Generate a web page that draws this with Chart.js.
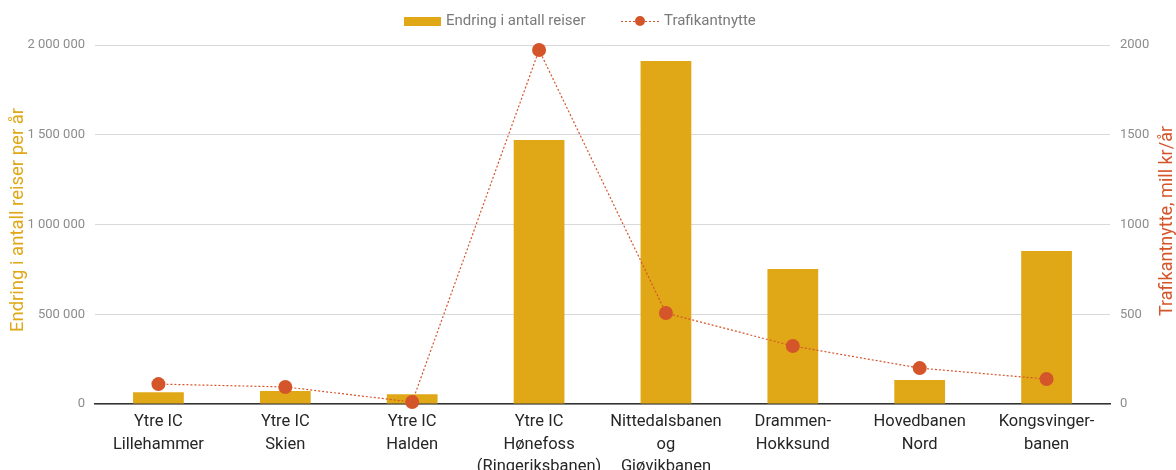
<!DOCTYPE html>
<html>
<head>
<meta charset="utf-8">
<script src="https://cdn.jsdelivr.net/npm/chart.js@4"></script>
<style>
  html, body { margin: 0; padding: 0; background: #fff; }
  #wrap { width: 1176px; height: 470px; }
</style>
</head>
<body>
<div id="wrap"><canvas id="myChart" width="1176" height="470"></canvas></div>
<script>
const categories = [
  ['Ytre IC', 'Lillehammer'],
  ['Ytre IC', 'Skien'],
  ['Ytre IC', 'Halden'],
  ['Ytre IC', 'Hønefoss', '(Ringeriksbanen)'],
  ['Nittedalsbanen', 'og', 'Gjøvikbanen'],
  ['Drammen-', 'Hokksund'],
  ['Hovedbanen', 'Nord'],
  ['Kongsvinger-', 'banen']
];
const reiser = [65000, 72000, 55000, 1471000, 1911000, 752000, 134000, 852000];
const nytte = [111, 95, 11, 1972, 507, 323, 200, 139];
const leftTicks = [0, 500000, 1000000, 1500000, 2000000];
const rightTicks = [0, 500, 1000, 1500, 2000];
const leftTitle = 'Endring i antall reiser per år';
const rightTitle = 'Trafikantnytte, mill kr/år';

const barColor = '#E0A717';
const lineColor = '#D5552B';
const fontFamily = 'Roboto, "Liberation Sans", sans-serif';

function spaced(v) {
  return String(v).replace(/\B(?=(\d{3})+(?!\d))/g, ' ');
}

// legend + axis titles drawn by hand (title on right reads bottom-to-top)
const extras = {
  id: 'extras',
  afterDraw(chart) {
    const ctx = chart.ctx;
    ctx.save();
    ctx.font = '15px ' + fontFamily;
    ctx.textBaseline = 'middle';
    ctx.fillStyle = barColor;
    ctx.fillRect(404, 17, 37, 9);
    ctx.fillStyle = '#7a7a7a';
    ctx.fillText('Endring i antall reiser', 446, 21);

    ctx.strokeStyle = lineColor;
    ctx.lineWidth = 1;
    ctx.setLineDash([2, 2]);
    ctx.beginPath();
    ctx.moveTo(621, 21.5);
    ctx.lineTo(659, 21.5);
    ctx.stroke();
    ctx.setLineDash([]);
    ctx.fillStyle = lineColor;
    ctx.beginPath();
    ctx.arc(640, 21, 5, 0, Math.PI * 2);
    ctx.fill();
    ctx.fillStyle = '#7a7a7a';
    ctx.fillText('Trafikantnytte', 664, 21);

    ctx.font = '18.5px ' + fontFamily;
    ctx.textAlign = 'center';
    ctx.save();
    ctx.translate(18, 220);
    ctx.rotate(-Math.PI / 2);
    ctx.fillStyle = barColor;
    ctx.fillText(leftTitle, 0, 0);
    ctx.restore();

    ctx.font = '18px ' + fontFamily;
    ctx.save();
    ctx.translate(1167, 221);
    ctx.rotate(-Math.PI / 2);
    ctx.fillStyle = lineColor;
    ctx.fillText(rightTitle, 0, 0);
    ctx.restore();
    ctx.restore();
  }
};

const ctx = document.getElementById('myChart').getContext('2d');
new Chart(ctx, {
  data: {
    labels: categories,
    datasets: [
      {
        type: 'line',
        label: 'Trafikantnytte',
        data: nytte,
        yAxisID: 'y1',
        order: 0,
        borderColor: lineColor,
        backgroundColor: lineColor,
        borderWidth: 1.2,
        borderDash: [2, 2],
        pointRadius: 7,
        pointHoverRadius: 7,
        pointBorderWidth: 0,
        tension: 0,
        clip: false
      },
      {
        type: 'bar',
        label: 'Endring i antall reiser',
        data: reiser,
        yAxisID: 'y',
        order: 1,
        backgroundColor: barColor,
        categoryPercentage: 1,
        barPercentage: 0.4
      }
    ]
  },
  options: {
    responsive: false,
    animation: false,
    layout: { padding: { top: 45, left: 0, right: 0, bottom: 0 } },
    plugins: {
      legend: { display: false },
      tooltip: { enabled: false }
    },
    scales: {
      x: {
        grid: { display: false, drawTicks: false },
        border: { display: true, color: '#333', width: 1.5 },
        ticks: {
          color: '#262626',
          font: { family: fontFamily, size: 16.5, lineHeight: 1.35 },
          padding: 7,
          maxRotation: 0,
          autoSkip: false
        },
        afterFit(scale) { scale.height = 66; }
      },
      y: {
        position: 'left',
        min: 0,
        max: 2000000,
        afterBuildTicks(scale) { scale.ticks = leftTicks.map(v => ({ value: v })); },
        grid: { color: '#d9d9d9', drawTicks: false },
        border: { display: false },
        ticks: {
          color: '#8c8c8c',
          font: { family: fontFamily, size: 13 },
          padding: 10,
          callback: v => spaced(v)
        },
        afterFit(scale) { scale.width = 95; }
      },
      y1: {
        position: 'right',
        min: 0,
        max: 2000,
        afterBuildTicks(scale) { scale.ticks = rightTicks.map(v => ({ value: v })); },
        grid: { display: false, drawTicks: false },
        border: { display: false },
        ticks: {
          color: '#8c8c8c',
          font: { family: fontFamily, size: 13 },
          padding: 10,
          callback: v => String(v)
        },
        afterFit(scale) { scale.width = 66; }
      }
    }
  },
  plugins: [extras]
});
</script>
</body>
</html>
